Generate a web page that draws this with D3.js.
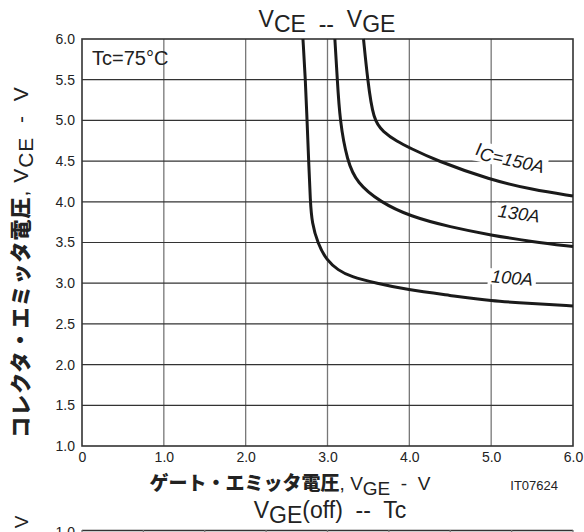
<!DOCTYPE html>
<html>
<head>
<meta charset="utf-8">
<script src="https://cdn.jsdelivr.net/npm/d3@7"></script>
<style>
  body { margin: 0; background: #fff; }
  svg { display: block; font-family: "Liberation Sans", Arial, sans-serif; }
  text { white-space: pre; }
</style>
</head>
<body>
<div id="plot"></div>
<script>
// Data: VGE (x) vs VCE (y) for each collector current
var vge100 = [2.70, 2.73, 2.75, 2.77, 2.79, 2.81, 2.88, 2.99, 3.13, 3.28, 3.60, 3.97, 4.50, 5.00, 5.50, 6.00];
var vce100 = [6.00, 5.50, 5.00, 4.50, 4.00, 3.74, 3.49, 3.28, 3.16, 3.08, 3.00, 2.92, 2.85, 2.78, 2.75, 2.72];
var vge130 = [3.09, 3.12, 3.15, 3.24, 3.36, 3.64, 4.01, 4.50, 5.00, 5.50, 6.00];
var vce130 = [6.00, 5.50, 5.00, 4.50, 4.23, 4.00, 3.82, 3.69, 3.59, 3.51, 3.45];
var vge150 = [3.44, 3.49, 3.56, 3.68, 3.85, 4.01, 4.32, 4.99, 5.50, 6.00];
var vce150 = [6.00, 5.50, 5.00, 4.86, 4.74, 4.66, 4.51, 4.27, 4.15, 4.07];

var xTicks = [0, 1, 2, 3, 4, 5, 6];
var xTickLabels = ["0", "1.0", "2.0", "3.0", "4.0", "5.0", "6.0"];
var yTicks = [1.0, 1.5, 2.0, 2.5, 3.0, 3.5, 4.0, 4.5, 5.0, 5.5, 6.0];
var tcTicks = [-25, 0, 25, 50, 75, 100, 125, 150, 175];

var margin = {top: 39, left: 82},
    width = 491,
    height = 407;

var svg = d3.select("#plot")
    .append("svg")
    .attr("width", 584)
    .attr("height", 532);

var g = svg.append("g")
    .attr("transform", "translate(" + margin.left + "," + margin.top + ")");

var x = d3.scaleLinear().domain([0, 6]).range([0, width]);
var y = d3.scaleLinear().domain([1, 6]).range([height, 0]);

// Grid
g.selectAll(".vgrid")
    .data(xTicks.slice(1, -1)).enter()
    .append("line")
    .attr("x1", function(d){ return x(d); })
    .attr("x2", function(d){ return x(d); })
    .attr("y1", 0).attr("y2", height)
    .style("stroke", "#777").style("stroke-width", 1.3);
g.selectAll(".hgrid")
    .data(yTicks.slice(1, -1)).enter()
    .append("line")
    .attr("x1", 0).attr("x2", width)
    .attr("y1", function(d){ return y(d); })
    .attr("y2", function(d){ return y(d); })
    .style("stroke", "#333").style("stroke-width", 1.2);

// Axes
var xAxis = g.append("g")
    .attr("transform", "translate(0," + height + ")")
    .call(d3.axisBottom(x).tickValues(xTicks).tickSize(0).tickPadding(6)
        .tickFormat(function(d, i){ return xTickLabels[i]; }));
var yAxis = g.append("g")
    .call(d3.axisLeft(y).tickValues(yTicks).tickSize(0).tickPadding(7)
        .tickFormat(d3.format(".1f")));
[xAxis, yAxis].forEach(function(a){
    a.select(".domain").remove();
    a.selectAll("text")
        .style("font-size", "14px")
        .style("fill", "#222")
        .style("font-family", "'Liberation Sans', Arial, sans-serif");
});

// Frame
g.append("rect")
    .attr("width", width).attr("height", height)
    .style("fill", "none").style("stroke", "#333").style("stroke-width", 1.6);

// Curves
var series = [
    {vge: vge100, vce: vce100},
    {vge: vge130, vce: vce130},
    {vge: vge150, vce: vce150}
];
var line = d3.line()
    .x(function(d){ return x(d[0]); })
    .y(function(d){ return y(d[1]); })
    .curve(d3.curveBasis);
series.forEach(function(s){
    var pts = s.vge.map(function(v, i){ return [v, s.vce[i]]; });
    g.append("path")
        .attr("d", line(pts))
        .style("fill", "none")
        .style("stroke", "#1a1a1a")
        .style("stroke-width", 3);
});

// Curve labels (white backing breaks the grid lines)
var labels = [
    {vge: 5.22, vce: 4.49, rot: 12, parts: [["I", 0], ["C=150A", 4]]},
    {vge: 5.33, vce: 3.78, rot: 8, parts: [["130A", 0]]},
    {vge: 5.25, vce: 2.99, rot: 5, parts: [["100A", 0]]}
];
labels.forEach(function(l){
    var lg = g.append("g")
        .attr("transform", "translate(" + x(l.vge) + "," + y(l.vce) + ") rotate(" + l.rot + ")");
    var bg = lg.append("rect").style("fill", "#fff");
    var t = lg.append("text")
        .attr("text-anchor", "middle")
        .attr("dy", "0.35em")
        .style("font-size", "18px")
        .style("font-style", "italic")
        .style("fill", "#1a1a1a");
    l.parts.forEach(function(p, i){
        t.append("tspan").attr("dy", i === 0 ? 0 : p[1]).text(p[0]);
    });
    var bb = t.node().getBBox();
    bg.attr("x", bb.x - 3).attr("y", bb.y + 2)
      .attr("width", bb.width + 6).attr("height", bb.height - 4);
});

// Condition label
g.append("text")
    .attr("x", 10).attr("y", 26)
    .style("font-size", "20px")
    .style("fill", "#222")
    .text("Tc=75°C");

// Title
var title = svg.append("text")
    .attr("x", 327).attr("y", 32)
    .attr("text-anchor", "middle")
    .style("font-size", "23px")
    .style("fill", "#222");
title.append("tspan").attr("dy", -5).text("V");
title.append("tspan").attr("dy", 5).text("CE");
title.append("tspan").text("  --  ");
title.append("tspan").attr("dy", -5).text("V");
title.append("tspan").attr("dy", 5).text("GE");

// X axis label
var xl = svg.append("text")
    .attr("x", 290).attr("y", 490)
    .attr("text-anchor", "middle")
    .style("font-size", "19px")
    .style("fill", "#222");
xl.append("tspan").style("font-weight", "900")
    .style("font-family", "'Noto Sans CJK JP', sans-serif").text("ゲート・エミッタ電圧");
xl.append("tspan").text(", V");
xl.append("tspan").attr("dy", 5).text("GE");
xl.append("tspan").attr("dy", -5).text("  -  V");

svg.append("text")
    .attr("x", 558).attr("y", 490)
    .attr("text-anchor", "end")
    .style("font-size", "13px")
    .style("fill", "#222")
    .text("IT07624");

// Y axis label
var yl = svg.append("text")
    .attr("transform", "translate(28," + 262 + ") rotate(-90)")
    .attr("text-anchor", "middle")
    .style("font-size", "21px")
    .style("letter-spacing", "1px")
    .style("fill", "#222");
yl.append("tspan").style("font-weight", "900")
    .style("font-family", "'Noto Sans CJK JP', sans-serif").text("コレクタ・エミッタ電圧");
yl.append("tspan").text(", V");
yl.append("tspan").attr("dy", 5).text("CE");
yl.append("tspan").attr("dy", -5).text("  -  V");

// Start of the next chart (cut off at the bottom)
var title2 = svg.append("text")
    .attr("x", 330).attr("y", 523)
    .attr("text-anchor", "middle")
    .style("font-size", "23px")
    .style("fill", "#222");
title2.append("tspan").attr("dy", -5).text("V");
title2.append("tspan").attr("dy", 5).text("GE");
title2.append("tspan").attr("dy", -5).text("(off)  --  Tc");

var x2 = d3.scaleLinear().domain([-25, 175]).range([margin.left, margin.left + width]);
svg.append("line")
    .attr("x1", margin.left).attr("x2", margin.left + width)
    .attr("y1", 530.5).attr("y2", 530.5)
    .style("stroke", "#333").style("stroke-width", 1.6);
svg.selectAll(".tcgrid")
    .data(tcTicks).enter()
    .append("line")
    .attr("x1", function(d){ return x2(d); })
    .attr("x2", function(d){ return x2(d); })
    .attr("y1", 530).attr("y2", 532)
    .style("stroke", "#777").style("stroke-width", 1.3);
svg.append("text")
    .attr("x", 75).attr("y", 537)
    .attr("text-anchor", "end")
    .style("font-size", "14px")
    .style("fill", "#222")
    .text("1.0");
svg.append("text")
    .attr("transform", "translate(28,522) rotate(-90)")
    .attr("text-anchor", "middle")
    .style("font-size", "19px")
    .style("fill", "#222")
    .text("V");
</script>
</body>
</html>
